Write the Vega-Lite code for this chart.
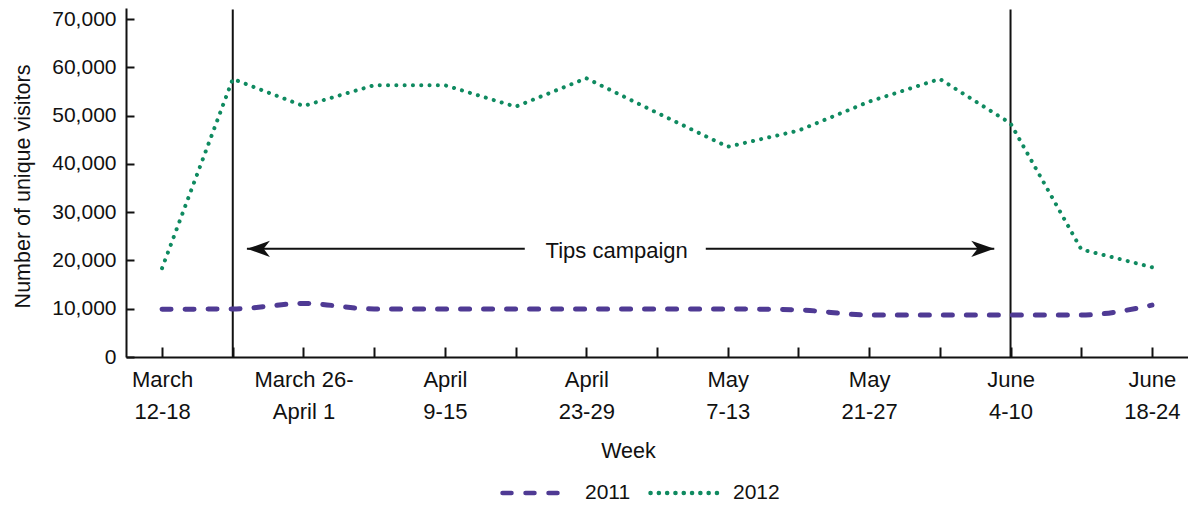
{
  "$schema": "https://vega.github.io/schema/vega-lite/v6.json",
  "width": 1062,
  "height": 349,
  "autosize": {"type": "none"},
  "padding": {"left": 126, "top": 8, "right": 0, "bottom": 148},
  "background": "white",
  "config": {"view": {"stroke": null}, "font": "Liberation Sans"},
  "datasets": {
    "visitors": [
      {"week_index": 0, "week": "March 12-18", "year": "2011", "visitors": 9900},
      {"week_index": 1, "week": "March 19-25", "year": "2011", "visitors": 9950},
      {"week_index": 2, "week": "March 26-April 1", "year": "2011", "visitors": 11100},
      {"week_index": 3, "week": "April 2-8", "year": "2011", "visitors": 9950},
      {"week_index": 4, "week": "April 9-15", "year": "2011", "visitors": 9950},
      {"week_index": 5, "week": "April 16-22", "year": "2011", "visitors": 9950},
      {"week_index": 6, "week": "April 23-29", "year": "2011", "visitors": 9950},
      {"week_index": 7, "week": "April 30-May 6", "year": "2011", "visitors": 9950},
      {"week_index": 8, "week": "May 7-13", "year": "2011", "visitors": 9950},
      {"week_index": 9, "week": "May 14-20", "year": "2011", "visitors": 9750},
      {"week_index": 10, "week": "May 21-27", "year": "2011", "visitors": 8700},
      {"week_index": 11, "week": "May 28-June 3", "year": "2011", "visitors": 8700},
      {"week_index": 12, "week": "June 4-10", "year": "2011", "visitors": 8700},
      {"week_index": 13, "week": "June 11-17", "year": "2011", "visitors": 8700},
      {"week_index": 14, "week": "June 18-24", "year": "2011", "visitors": 10750},
      {"week_index": 0, "week": "March 12-18", "year": "2012", "visitors": 18400},
      {"week_index": 1, "week": "March 19-25", "year": "2012", "visitors": 57600},
      {"week_index": 2, "week": "March 26-April 1", "year": "2012", "visitors": 52000},
      {"week_index": 3, "week": "April 2-8", "year": "2012", "visitors": 56300},
      {"week_index": 4, "week": "April 9-15", "year": "2012", "visitors": 56300},
      {"week_index": 5, "week": "April 16-22", "year": "2012", "visitors": 51850},
      {"week_index": 6, "week": "April 23-29", "year": "2012", "visitors": 57750},
      {"week_index": 7, "week": "April 30-May 6", "year": "2012", "visitors": 50600},
      {"week_index": 8, "week": "May 7-13", "year": "2012", "visitors": 43550},
      {"week_index": 9, "week": "May 14-20", "year": "2012", "visitors": 46900},
      {"week_index": 10, "week": "May 21-27", "year": "2012", "visitors": 52900},
      {"week_index": 11, "week": "May 28-June 3", "year": "2012", "visitors": 57600},
      {"week_index": 12, "week": "June 4-10", "year": "2012", "visitors": 48400},
      {"week_index": 13, "week": "June 11-17", "year": "2012", "visitors": 22300},
      {"week_index": 14, "week": "June 18-24", "year": "2012", "visitors": 18600}
    ],
    "campaign_bounds": [
      {"week_index": 1, "bottom": 0, "top": 72000},
      {"week_index": 12, "bottom": 0, "top": 72000}
    ],
    "arrow_lines": [
      {"start": 1.2, "end": 5.13, "level": 22400},
      {"start": 7.69, "end": 11.77, "level": 22400}
    ],
    "arrow_heads": [
      {"pos": 1.363, "dir": "left", "level": 22400},
      {"pos": 11.607, "dir": "right", "level": 22400}
    ],
    "annotation": [
      {"pos": 6.43, "level": 22000, "label": "Tips campaign"}
    ]
  },
  "layer": [
    {
      "data": {"name": "campaign_bounds"},
      "mark": {"type": "rule", "color": "#111111", "strokeWidth": 2},
      "encoding": {
        "x": {"field": "week_index", "type": "quantitative", "scale": {"domain": [-0.51, 14.51], "nice": false, "zero": false}},
        "y": {"field": "bottom", "type": "quantitative", "scale": {"domain": [0, 72300], "nice": false}},
        "y2": {"field": "top"}
      }
    },
    {
      "data": {"name": "arrow_lines"},
      "mark": {"type": "rule", "color": "#111111", "strokeWidth": 2},
      "encoding": {
        "x": {"field": "start", "type": "quantitative", "scale": {"domain": [-0.51, 14.51], "nice": false, "zero": false}},
        "x2": {"field": "end"},
        "y": {"field": "level", "type": "quantitative", "scale": {"domain": [0, 72300], "nice": false}}
      }
    },
    {
      "data": {"name": "arrow_heads"},
      "mark": {"type": "point", "filled": true, "color": "#111111", "opacity": 1, "size": 529},
      "encoding": {
        "x": {"field": "pos", "type": "quantitative", "scale": {"domain": [-0.51, 14.51], "nice": false, "zero": false}},
        "y": {"field": "level", "type": "quantitative", "scale": {"domain": [0, 72300], "nice": false}},
        "shape": {"field": "dir", "type": "nominal", "legend": null,
          "scale": {"domain": ["left", "right"], "range": ["M-1,0L1,-0.7L0.45,0L1,0.7Z", "M1,0L-1,-0.7L-0.45,0L-1,0.7Z"]}}
      }
    },
    {
      "data": {"name": "annotation"},
      "mark": {"type": "text", "font": "Liberation Sans", "fontSize": 22, "color": "#111111", "align": "center", "baseline": "middle"},
      "encoding": {
        "x": {"field": "pos", "type": "quantitative", "scale": {"domain": [-0.51, 14.51], "nice": false, "zero": false}},
        "y": {"field": "level", "type": "quantitative", "scale": {"domain": [0, 72300], "nice": false}},
        "text": {"field": "label"}
      }
    },
    {
      "data": {"name": "visitors"},
      "transform": [{"filter": "datum.year == '2011'"}],
      "mark": {"type": "line", "interpolate": "monotone", "strokeWidth": 5, "strokeCap": "round"},
      "encoding": {
        "x": {"field": "week_index", "type": "quantitative", "scale": {"domain": [-0.51, 14.51], "nice": false, "zero": false},
          "axis": {
            "values": [0, 1, 2, 3, 4, 5, 6, 7, 8, 9, 10, 11, 12, 13, 14],
            "labelExpr": "datum.value % 2 == 0 ? split(['March|12-18','March 26-|April 1','April|9-15','April|23-29','May|7-13','May|21-27','June|4-10','June|18-24'][datum.value / 2], '|') : ''",
            "title": "Week", "grid": false,
            "tickSize": -10, "tickWidth": 2, "tickColor": "#111111",
            "domainColor": "#111111", "domainWidth": 2,
            "labelFont": "Liberation Sans", "labelFontSize": 22, "labelLineHeight": 32, "labelPadding": 22,
            "labelColor": "#111111", "labelAngle": 0, "labelFlush": false, "labelOverlap": false, "labelBound": false,
            "titleFont": "Liberation Sans", "titleFontSize": 21.5, "titleFontWeight": "normal", "titleColor": "#111111",
            "titlePadding": 18, "titleX": 502
          }},
        "y": {"field": "visitors", "type": "quantitative", "scale": {"domain": [0, 72300], "nice": false},
          "axis": {
            "values": [0, 10000, 20000, 30000, 40000, 50000, 60000, 70000], "format": ",.0f",
            "title": "Number of unique visitors", "grid": false,
            "tickSize": -8, "tickWidth": 2, "tickColor": "#111111",
            "domainColor": "#111111", "domainWidth": 2,
            "labelFont": "Liberation Sans", "labelFontSize": 21, "labelPadding": 18, "labelColor": "#111111",
            "titleFont": "Liberation Sans", "titleFontSize": 21.5, "titleFontWeight": "normal", "titleColor": "#111111",
            "titlePadding": 17, "titleY": 178
          }},
        "color": {"field": "year", "type": "nominal", "scale": {"domain": ["2011", "2012"], "range": ["#4F3A94", "#0F8A60"]},
          "legend": {"orient": "none", "legendX": 374, "legendY": 449, "direction": "horizontal", "title": null,
            "symbolType": "stroke", "symbolSize": 4489, "symbolStrokeWidth": 4.5, "labelFont": "Liberation Sans",
            "labelFontSize": 21, "labelColor": "#111111", "labelOffset": 13, "columnPadding": 10, "padding": 0,
            "encode": {"symbols": {"update": {"strokeCap": {"value": "round"}, "strokeDash": {"signal": "datum.value == '2011' ? [6.5, 13] : [0.1, 8.3]"}}}}}},
        "strokeDash": {"field": "year", "type": "nominal", "scale": {"domain": ["2011", "2012"], "range": [[9, 14], [0.1, 8.2]]},
          "legend": {"orient": "none", "legendX": 374, "legendY": 449, "direction": "horizontal", "title": null,
            "symbolType": "stroke", "symbolSize": 4489, "symbolStrokeWidth": 4.5, "labelFont": "Liberation Sans",
            "labelFontSize": 21, "labelColor": "#111111", "labelOffset": 13, "columnPadding": 10, "padding": 0,
            "encode": {"symbols": {"update": {"strokeCap": {"value": "round"}, "strokeDash": {"signal": "datum.value == '2011' ? [6.5, 13] : [0.1, 8.3]"}}}}}}
      }
    },
    {
      "data": {"name": "visitors"},
      "transform": [{"filter": "datum.year == '2012'"}],
      "mark": {"type": "line", "interpolate": "linear", "strokeWidth": 4, "strokeCap": "round"},
      "encoding": {
        "x": {"field": "week_index", "type": "quantitative", "scale": {"domain": [-0.51, 14.51], "nice": false, "zero": false}},
        "y": {"field": "visitors", "type": "quantitative", "scale": {"domain": [0, 72300], "nice": false}},
        "color": {"field": "year", "type": "nominal"},
        "strokeDash": {"field": "year", "type": "nominal"}
      }
    }
  ]
}
